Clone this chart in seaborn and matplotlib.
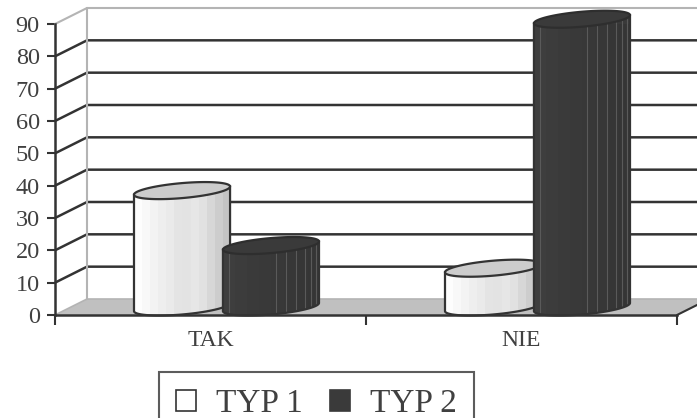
import numpy as np
import pandas as pd
import matplotlib
matplotlib.use("Agg")
import matplotlib.pyplot as plt
import seaborn as sns
from matplotlib.path import Path
from matplotlib.patches import PathPatch, Patch, Polygon
from matplotlib.colors import LinearSegmentedColormap

# ---- data ----
categories = ["TAK", "NIE"]
series = ["TYP 1", "TYP 2"]
typ1_values = [36, 12]
typ2_values = [19, 89]
y_ticks = [0, 10, 20, 30, 40, 50, 60, 70, 80, 90]

df = pd.DataFrame({
    "odp": categories * 2,
    "typ": [series[0]] * len(categories) + [series[1]] * len(categories),
    "val": typ1_values + typ2_values,
})

# ---- layout (pixels) ----
FIG_W, FIG_H, DPI = 697, 418, 100
AX_L, AX_R = 55, 677          # front plane, left/right
AX_TOP, AX_BOT = 24, 315      # front plane, value 90 / value 0
DEPTH_X, DEPTH_Y = 32, 16     # offset from front plane to back wall
INK = "#3a3a3a"
TEXT = "#404040"

sns.set_theme(style="white")
plt.rcParams["font.family"] = ["Liberation Serif", "DejaVu Serif"]

fig = plt.figure(figsize=(FIG_W / DPI, FIG_H / DPI), dpi=DPI)
fig.patch.set_facecolor("white")
ax = fig.add_axes([AX_L / FIG_W, 1 - AX_BOT / FIG_H,
                   (AX_R - AX_L) / FIG_W, (AX_BOT - AX_TOP) / FIG_H])
ax.set_facecolor("none")

XMIN, XMAX, YMIN, YMAX = -0.5, 1.5, 0, 90
px_x = (AX_R - AX_L) / (XMAX - XMIN)   # pixels per category unit
px_y = (AX_BOT - AX_TOP) / (YMAX - YMIN)  # pixels per value unit
ddx, ddy = DEPTH_X / px_x, DEPTH_Y / px_y  # depth offset in data units

sns.barplot(data=df, x="odp", y="val", hue="typ", order=categories,
            hue_order=series, width=0.572, dodge=True, legend=False,
            palette=["white", INK], ax=ax, errorbar=None)

# ---- back wall, side wall and floor ----
xr = XMAX + ddx + 1.0
wall = Polygon([(XMIN + ddx, ddy), (xr, ddy), (xr, YMAX + ddy), (XMIN + ddx, YMAX + ddy)],
               closed=True, facecolor="white", edgecolor="none", zorder=0.1, clip_on=False)
ax.add_patch(wall)
floor = Polygon([(XMIN, 0), (XMAX, 0), (XMAX + ddx, ddy), (XMIN + ddx, ddy)],
                closed=True, facecolor="#c0c0c0", edgecolor="none", zorder=0.3, clip_on=False)
ax.add_patch(floor)
for v in y_ticks[1:-1]:
    ax.plot([XMIN, XMIN + ddx, xr], [v, v + ddy, v + ddy], color="#333333",
            lw=1.8, zorder=0.5, clip_on=False, solid_capstyle="butt")
# wall outline (top edge, inner corner, floor edge)
ax.plot([XMIN, XMIN + ddx, xr], [YMAX, YMAX + ddy, YMAX + ddy], color="#b4b4b4",
        lw=1.5, zorder=0.6, clip_on=False)
ax.plot([XMIN + ddx, XMIN + ddx], [ddy, YMAX + ddy], color="#b4b4b4",
        lw=1.5, zorder=0.6, clip_on=False)
ax.plot([XMIN, XMIN + ddx, xr], [0, ddy, ddy], color="#b4b4b4",
        lw=1.2, zorder=0.4, clip_on=False)
ax.plot([XMAX, XMAX + ddx], [0, ddy], color="#333333", lw=1.5,
        zorder=0.7, clip_on=False)

# ---- cylinders built from the seaborn bars ----
shade_light = LinearSegmentedColormap.from_list(
    "light", ["#fdfdfd", "#f4f4f4", "#ececec", "#e2e2e2", "#e8e8e8", "#d6d6d6", "#c4c4c4"], N=12)
shade_dark = LinearSegmentedColormap.from_list(
    "dark", ["#3e3e3e", "#3a3a3a", "#383838", "#353535"], N=8)

SKEW = 0.085          # rise of the ellipse rim (pixels per pixel)
RIM_B = 7.5 / px_y    # ellipse half-height in value units
mid_x, mid_y = ddx / 2, ddy / 2
WIDEN = 1.08


def shear(dx):
    return SKEW * dx * px_x / px_y


z = 2.0
for ci, container in enumerate(ax.containers):
    dark = ci == 1
    for bar in container:
        bar.set_visible(False)
        x0, w, h = bar.get_x(), bar.get_width(), bar.get_height()
        cx = x0 + w / 2 + mid_x
        a = w * WIDEN / 2
        base, top = mid_y, h + mid_y

        t_low = np.linspace(0, -np.pi, 60)
        body = [(cx - a, base + shear(-a)), (cx - a, top + shear(-a)),
                (cx + a, top + shear(a))]
        body += [(cx + a * np.cos(t), base + RIM_B * np.sin(t) + shear(a * np.cos(t)))
                 for t in t_low]
        body_path = Path(np.array(body + [body[0]]), closed=True)

        face = PathPatch(body_path, facecolor="#3a3a3a" if dark else "white",
                         edgecolor="none", zorder=z, clip_on=False)
        ax.add_patch(face)
        grad = np.linspace(0, 1, 200).reshape(1, -1)
        img = ax.imshow(grad, extent=[cx - a, cx + a, base - 2 * RIM_B, top + 2 * RIM_B],
                        aspect="auto", cmap=shade_dark if dark else shade_light,
                        interpolation="nearest", zorder=z + 0.01)
        img.set_clip_path(face)
        img.set_clip_box(None)
        if dark:
            for f in [0.06, 0.55, 0.66, 0.76, 0.85, 0.92, 0.97]:
                lx = cx - a + 2 * a * f
                ln, = ax.plot([lx, lx], [base - 2 * RIM_B, top + 2 * RIM_B],
                              color="#5a5a5a", lw=0.8, zorder=z + 0.02)
                ln.set_clip_path(face)
                ln.set_clip_box(None)
        ax.add_patch(PathPatch(body_path, facecolor="none", edgecolor="#333333",
                               lw=1.6, zorder=z + 0.03, clip_on=False))

        t_all = np.linspace(0, 2 * np.pi, 120)
        rim = np.column_stack([cx + a * np.cos(t_all),
                               top + RIM_B * np.sin(t_all) + shear(a * np.cos(t_all))])
        ax.add_patch(PathPatch(Path(rim, closed=True),
                               facecolor="#3a3a3a" if dark else "#cccccc",
                               edgecolor="#2e2e2e" if dark else "#333333",
                               lw=1.6, zorder=z + 0.04, clip_on=False))
        z += 1.0

# ---- axes ----
ax.set_xlim(XMIN, XMAX)
ax.set_ylim(YMIN, YMAX)
ax.set_xlabel("")
ax.set_ylabel("")
for side in ["top", "right"]:
    ax.spines[side].set_visible(False)
for side in ["left", "bottom"]:
    ax.spines[side].set_color("#333333")
    ax.spines[side].set_linewidth(1.8)
    ax.spines[side].set_zorder(50)
ax.set_yticks(y_ticks)
ax.set_yticklabels([str(v) for v in y_ticks])
ax.tick_params(axis="y", which="major", left=True, length=6, width=1.5,
               color="#333333", pad=5, labelsize=17.5, labelcolor=TEXT)
ax.set_xticks(range(len(categories)))
ax.set_xticklabels(categories)
ax.set_xticks([-0.5, 0.5, 1.5], minor=True)
ax.tick_params(axis="x", which="major", bottom=False, length=0, pad=11,
               labelsize=17, labelcolor=TEXT)
ax.tick_params(axis="x", which="minor", bottom=True, length=7, width=1.5,
               color="#333333")
ax.grid(False)

# ---- legend ----
handles = [Patch(facecolor="white", edgecolor="#333333", lw=1.2),
           Patch(facecolor=INK, edgecolor=INK, lw=1.2)]
leg = fig.legend(handles, series, loc="upper left",
                 bbox_to_anchor=(159 / FIG_W, 1 - 372 / FIG_H),
                 bbox_transform=fig.transFigure, ncol=2, frameon=True,
                 fancybox=False, shadow=False, fontsize=24, borderaxespad=0,
                 handlelength=0.62, handleheight=0.62, handletextpad=0.6,
                 columnspacing=0.8, borderpad=0.5)
leg.get_frame().set_edgecolor("#333333")
leg.get_frame().set_linewidth(1.5)
for t in leg.get_texts():
    t.set_color(TEXT)

fig.savefig("out.png", dpi=DPI, facecolor="white")
